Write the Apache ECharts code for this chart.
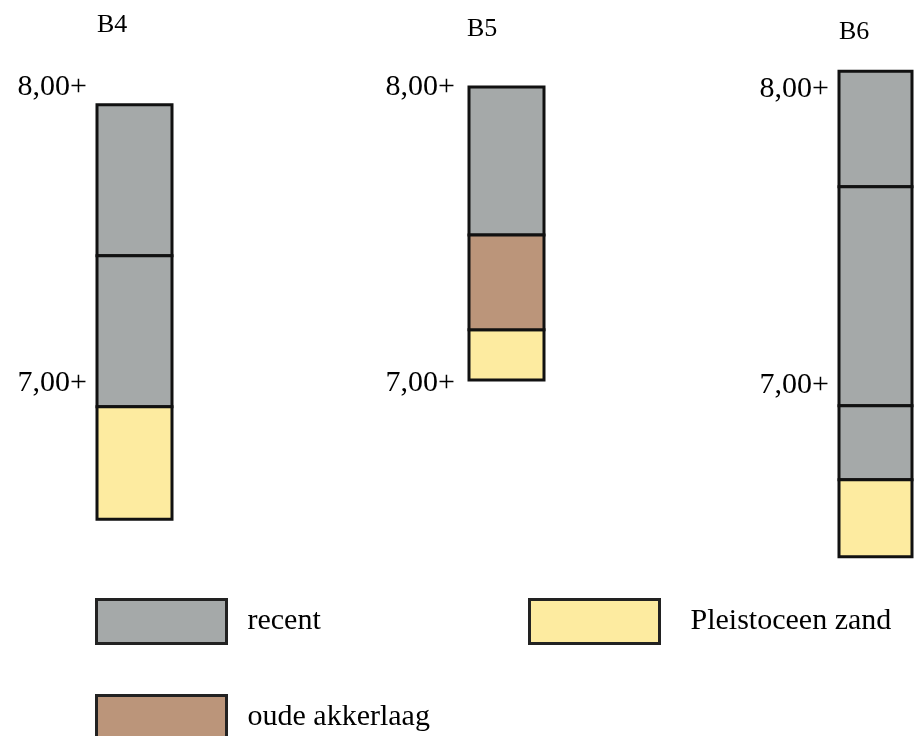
<!DOCTYPE html>
<html>
<head>
<meta charset="utf-8">
<script src="https://cdn.jsdelivr.net/npm/echarts@6/dist/echarts.min.js"></script>
<style>html,body{margin:0;padding:0;background:#fff}#c{width:914px;height:736px}</style>
</head>
<body>
<div id="c"></div>
<script>
// Column names
const columns = ['B4', 'B5', 'B6'];
// Layer boundaries (m), top to bottom, per column
const b4Bounds = [7.94, 7.43, 6.92, 6.54];
const b5Bounds = [8.00, 7.50, 7.18, 7.01];
const b6Bounds = [8.06, 7.67, 6.93, 6.68, 6.42];
// Layer types per column, top to bottom
const b4Layers = ['recent', 'recent', 'Pleistoceen zand'];
const b5Layers = ['recent', 'oude akkerlaag', 'Pleistoceen zand'];
const b6Layers = ['recent', 'recent', 'recent', 'Pleistoceen zand'];
// Level labels shown beside each column
const levelTicks = [7, 8];
// Legend categories
const layerTypes = ['recent', 'Pleistoceen zand', 'oude akkerlaag'];
const layerColors = { 'recent': '#a5a9a9', 'oude akkerlaag': '#bb957a', 'Pleistoceen zand': '#fdeba0' };

const allBounds = [b4Bounds, b5Bounds, b6Bounds];
const allLayers = [b4Layers, b5Layers, b6Layers];

const FONT = 'Liberation Serif';
const gridLeft = [97, 469, 839];
const gridWidth = [75, 75, 73];
const gridTop = [27.8, 27.8, 29.8];
const labelMargin = [10, 14, 10];
const titleLeft = [97, 467, 839];
const titleTop = [12, 16, 19];

const grids = [], xAxes = [], yAxes = [], titles = [], series = [];
columns.forEach((col, i) => {
  grids.push({ left: gridLeft[i], top: gridTop[i], width: gridWidth[i], height: 562.4 });
  xAxes.push({ gridIndex: i, type: 'value', min: 0, max: 1, show: false });
  yAxes.push({
    gridIndex: i, type: 'value', min: 6.3, max: 8.2,
    axisLine: { show: false }, axisTick: { show: false }, splitLine: { show: false },
    axisLabel: {
      customValues: levelTicks, margin: labelMargin[i],
      fontFamily: FONT, fontSize: 30, color: '#000', padding: [4, 0, 0, 0],
      formatter: v => v.toFixed(2).replace('.', ',') + '+'
    }
  });
  titles.push({ text: col, left: titleLeft[i], top: titleTop[i], padding: 0,
    textStyle: { fontFamily: FONT, fontSize: 26, fontWeight: 'normal', color: '#000' } });
  const bounds = allBounds[i], layers = allLayers[i];
  layerTypes.forEach(t => {
    const data = [];
    layers.forEach((l, k) => { if (l === t) data.push([0, 1, bounds[k], bounds[k + 1]]); });
    if (!data.length) return;
    series.push({
      type: 'custom', name: t, xAxisIndex: i, yAxisIndex: i,
      encode: { x: [0, 1], y: [2, 3] },
      itemStyle: { color: layerColors[t], borderColor: '#000', borderWidth: 3 },
      renderItem: (params, api) => {
        const p0 = api.coord([api.value(0), api.value(2)]);
        const p1 = api.coord([api.value(1), api.value(3)]);
        return {
          type: 'rect',
          shape: { x: p0[0], y: p0[1], width: p1[0] - p0[0], height: p1[1] - p0[1] },
          style: { fill: layerColors[t], stroke: '#111', lineWidth: 3 }
        };
      },
      data: data
    });
  });
});

function legendFor(name, left, top, pad) {
  return {
    left: left, top: top, padding: 0, orient: 'horizontal',
    itemWidth: 130, itemHeight: 44, selectedMode: false,
    textStyle: { fontFamily: FONT, fontSize: 30, color: '#000', padding: [0, 0, 0, pad] },
    data: [{ name: name, icon: 'rect',
      itemStyle: { color: layerColors[name], borderColor: '#222', borderWidth: 3 } }]
  };
}

const chart = echarts.init(document.getElementById('c'), null, { renderer: 'canvas' });
chart.setOption({
  animation: false,
  backgroundColor: '#fff',
  title: titles,
  grid: grids,
  xAxis: xAxes,
  yAxis: yAxes,
  legend: [
    legendFor('recent', 95, 598, 16),
    legendFor('Pleistoceen zand', 528, 598, 26),
    legendFor('oude akkerlaag', 95, 694, 16)
  ],
  series: series
});
</script>
</body>
</html>
